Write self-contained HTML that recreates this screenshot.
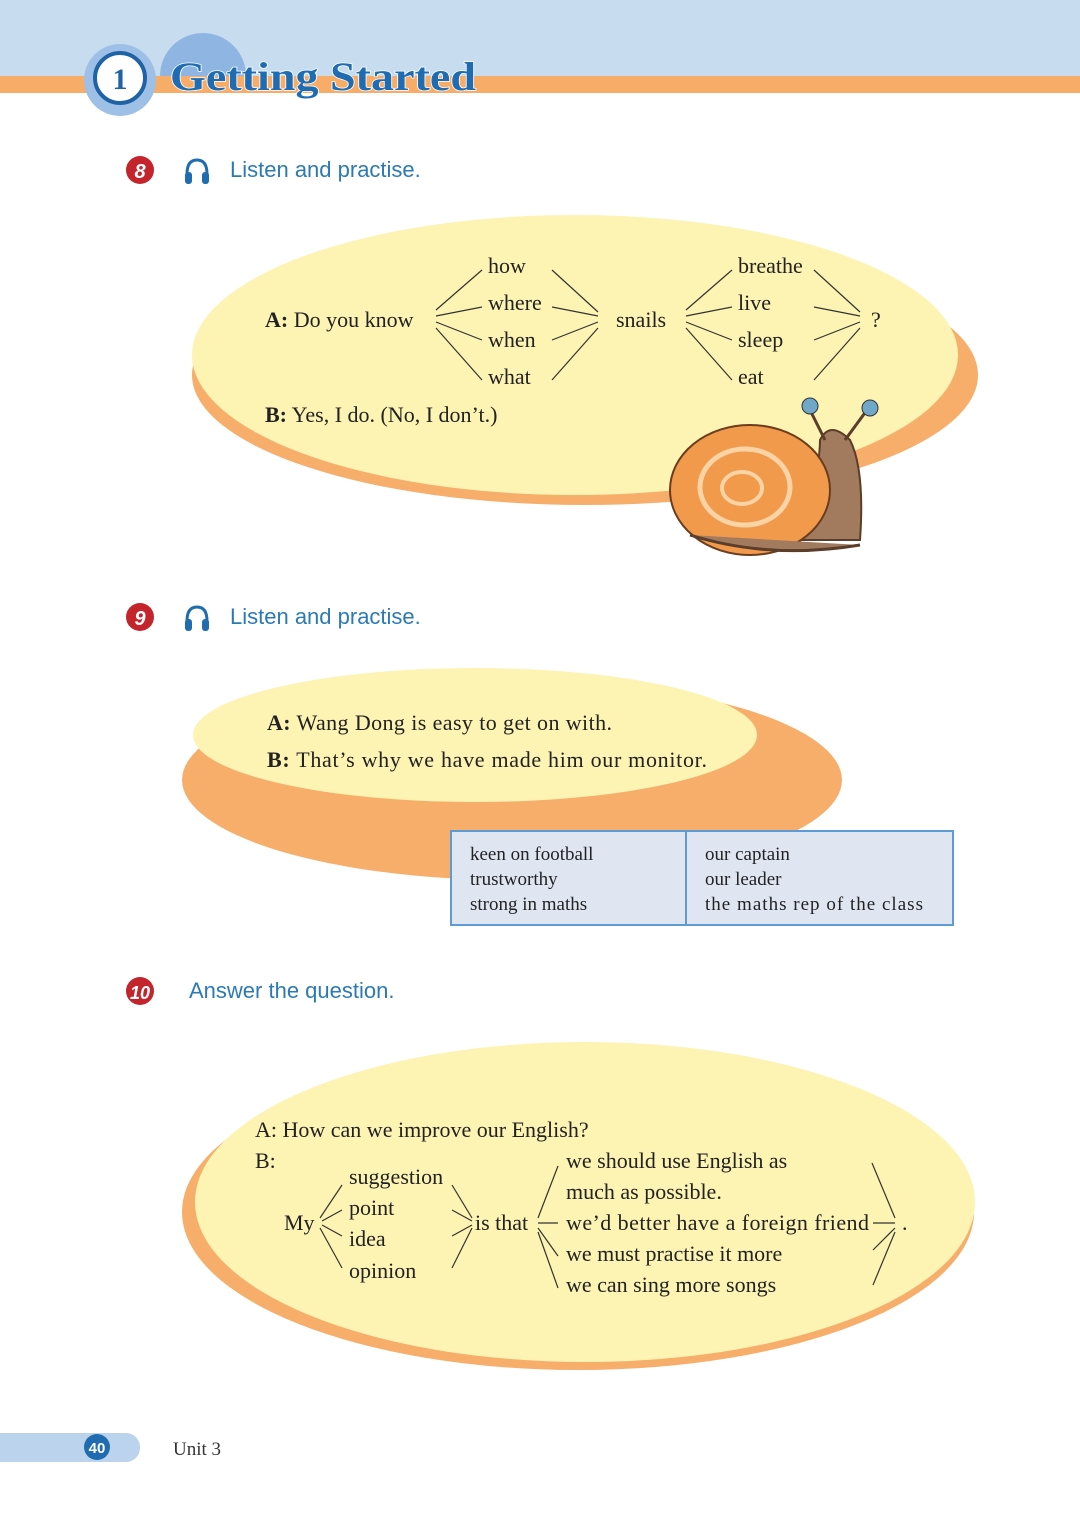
<!DOCTYPE html>
<html><head><meta charset="utf-8"><style>
body{margin:0;background:#fff}
svg{display:block}
.s{font-family:"Liberation Serif",serif;font-size:22px;fill:#222}
.h{font-family:"Liberation Sans",sans-serif;font-size:22px;fill:#2b7ab5}
.t{font-family:"Liberation Serif",serif;font-size:19px;fill:#222}
line{stroke:#333;stroke-width:1.2}
</style></head><body>
<svg width="1080" height="1526" viewBox="0 0 1080 1526">
<defs><clipPath id="c"><rect x="0" y="0" width="1080" height="78"/></clipPath>
<g id="hp"><path d="M3 16 Q3 2 13 2 Q23 2 23 16" fill="none" stroke="#1f6cb0" stroke-width="3"/><rect x="1" y="14" width="7" height="12" rx="3" fill="#1f6cb0"/><rect x="18" y="14" width="7" height="12" rx="3" fill="#1f6cb0"/></g></defs>
<rect x="0" y="0" width="1080" height="78" fill="#c8dcef"/>
<circle cx="203" cy="76" r="43" fill="#8fb6e2" clip-path="url(#c)"/>
<rect x="0" y="76" width="1080" height="17" fill="#f7ad67"/>
<circle cx="120" cy="80" r="36" fill="#9fc0e6"/>
<circle cx="120" cy="78" r="25" fill="#fff" stroke="#1f63a6" stroke-width="4"/>
<text x="120" y="89" text-anchor="middle" font-family="Liberation Serif,serif" font-weight="bold" font-size="30" fill="#1f63a6">1</text>
<text x="170" y="90" textLength="306" lengthAdjust="spacingAndGlyphs" font-family="Liberation Serif,serif" font-weight="bold" font-size="40" fill="#1f6cb3" stroke="#fff" stroke-width="1.5" paint-order="stroke">Getting  Started</text>

<circle cx="140" cy="170" r="14" fill="#c4242b"/><text x="140" y="178" text-anchor="middle" font-family="Liberation Sans" font-weight="bold" font-style="italic" font-size="20" fill="#fff">8</text>
<use href="#hp" x="184" y="158"/>
<text x="230" y="177" class="h">Listen and practise.</text>

<ellipse cx="585" cy="375" rx="393" ry="130" fill="#f6ae6a"/>
<ellipse cx="575" cy="355" rx="383" ry="140" fill="#fdf3b3"/>
<text x="265" y="327" class="s"><tspan font-weight="bold">A:</tspan> Do you know</text>
<text x="488" y="273" class="s">how</text><text x="488" y="310" class="s">where</text><text x="488" y="347" class="s">when</text><text x="488" y="384" class="s">what</text>
<text x="616" y="327" class="s">snails</text>
<text x="738" y="273" class="s">breathe</text><text x="738" y="310" class="s">live</text><text x="738" y="347" class="s">sleep</text><text x="738" y="384" class="s">eat</text>
<text x="871" y="327" class="s">?</text>
<text x="265" y="422" class="s"><tspan font-weight="bold">B:</tspan> Yes, I do. (No, I don’t.)</text>
<g>
<line x1="436" y1="310" x2="482" y2="270"/><line x1="436" y1="316" x2="482" y2="307"/><line x1="436" y1="322" x2="482" y2="340"/><line x1="436" y1="328" x2="482" y2="380"/>
<line x1="552" y1="270" x2="598" y2="312"/><line x1="552" y1="307" x2="598" y2="316"/><line x1="552" y1="340" x2="598" y2="322"/><line x1="552" y1="380" x2="598" y2="328"/>
<line x1="686" y1="310" x2="732" y2="270"/><line x1="686" y1="316" x2="732" y2="307"/><line x1="686" y1="322" x2="732" y2="340"/><line x1="686" y1="328" x2="732" y2="380"/>
<line x1="814" y1="270" x2="860" y2="312"/><line x1="814" y1="307" x2="860" y2="316"/><line x1="814" y1="340" x2="860" y2="322"/><line x1="814" y1="380" x2="860" y2="328"/>
</g>
<path d="M800 540 Q820 470 820 440 Q830 420 850 440 Q865 470 860 540 Z" fill="#a27a5e" stroke="#5a3d2a" stroke-width="2"/>
<line x1="825" y1="440" x2="810" y2="410" style="stroke:#5a3d2a;stroke-width:3"/><line x1="845" y1="440" x2="867" y2="410" style="stroke:#5a3d2a;stroke-width:3"/>
<circle cx="810" cy="406" r="8" fill="#6fa8c8" stroke="#333"/><circle cx="870" cy="408" r="8" fill="#6fa8c8" stroke="#333"/>
<ellipse cx="750" cy="490" rx="80" ry="65" fill="#f29a4c" stroke="#6a3d1e" stroke-width="2"/>
<ellipse cx="745" cy="487" rx="45" ry="38" fill="none" stroke="#fbd3a4" stroke-width="5"/>
<ellipse cx="742" cy="488" rx="20" ry="16" fill="none" stroke="#fbd3a4" stroke-width="4"/>
<path d="M690 535 Q770 560 860 545" stroke="#5a3d2a" stroke-width="3" fill="#a27a5e"/>

<circle cx="140" cy="617" r="14" fill="#c4242b"/><text x="140" y="625" text-anchor="middle" font-family="Liberation Sans" font-weight="bold" font-style="italic" font-size="20" fill="#fff">9</text>
<use href="#hp" x="184" y="605"/>
<text x="230" y="624" class="h">Listen and practise.</text>

<ellipse cx="512" cy="780" rx="330" ry="100" fill="#f6ae6a"/>
<ellipse cx="475" cy="735" rx="282" ry="67" fill="#fdf3b3"/>
<text x="267" y="730" class="s" textLength="345"><tspan font-weight="bold">A:</tspan> Wang Dong is easy to get on with.</text>
<text x="267" y="767" class="s" textLength="440"><tspan font-weight="bold">B:</tspan> That’s why we have made him our monitor.</text>
<rect x="451" y="831" width="502" height="94" fill="#dfe6f2" stroke="#5c9bd3" stroke-width="2"/>
<line x1="686" y1="831" x2="686" y2="925" style="stroke:#5c9bd3;stroke-width:2"/>
<text x="470" y="860" class="t">keen on football</text><text x="470" y="885" class="t">trustworthy</text><text x="470" y="910" class="t">strong in maths</text>
<text x="705" y="860" class="t">our captain</text><text x="705" y="885" class="t">our leader</text><text x="705" y="910" class="t" textLength="218">the maths rep of the class</text>

<circle cx="140" cy="991" r="14" fill="#c4242b"/><text x="140" y="999" text-anchor="middle" font-family="Liberation Sans" font-weight="bold" font-style="italic" font-size="18" fill="#fff">10</text>
<text x="189" y="998" class="h">Answer the question.</text>

<ellipse cx="578" cy="1212" rx="396" ry="158" fill="#f6ae6a"/>
<ellipse cx="585" cy="1202" rx="390" ry="160" fill="#fdf3b3"/>
<text x="255" y="1137" class="s">A: How can we improve our English?</text>
<text x="255" y="1168" class="s">B:</text>
<text x="284" y="1230" class="s">My</text>
<text x="349" y="1184" class="s">suggestion</text><text x="349" y="1215" class="s">point</text><text x="349" y="1246" class="s">idea</text><text x="349" y="1278" class="s">opinion</text>
<text x="475" y="1230" class="s">is that</text>
<text x="566" y="1168" class="s">we should use English as</text><text x="566" y="1199" class="s">much as possible.</text><text x="566" y="1230" class="s" textLength="303">we’d better have a foreign friend</text><text x="566" y="1261" class="s">we must practise it more</text><text x="566" y="1292" class="s">we can sing more songs</text>
<text x="902" y="1230" class="s">.</text>
<line x1="320" y1="1218" x2="342" y2="1185"/><line x1="322" y1="1221" x2="342" y2="1210"/><line x1="322" y1="1225" x2="342" y2="1236"/><line x1="320" y1="1228" x2="342" y2="1268"/>
<line x1="452" y1="1185" x2="472" y2="1218"/><line x1="452" y1="1210" x2="472" y2="1221"/><line x1="452" y1="1236" x2="472" y2="1225"/><line x1="452" y1="1268" x2="472" y2="1228"/>
<line x1="538" y1="1218" x2="558" y2="1166"/><line x1="538" y1="1223" x2="558" y2="1223"/><line x1="538" y1="1228" x2="558" y2="1256"/><line x1="538" y1="1232" x2="558" y2="1288"/>
<line x1="872" y1="1163" x2="895" y2="1218"/><line x1="873" y1="1223" x2="895" y2="1223"/><line x1="873" y1="1250" x2="895" y2="1228"/><line x1="873" y1="1285" x2="895" y2="1232"/>

<rect x="-20" y="1433" width="160" height="29" rx="14" fill="#bcd3ee"/>
<circle cx="97" cy="1447" r="13" fill="#1f6cb0"/>
<text x="97" y="1453" text-anchor="middle" font-family="Liberation Sans" font-weight="bold" font-size="15" fill="#fff">40</text>
<text x="173" y="1455" font-family="Liberation Serif,serif" font-size="19" fill="#333">Unit 3</text>
</svg>
</body></html>
